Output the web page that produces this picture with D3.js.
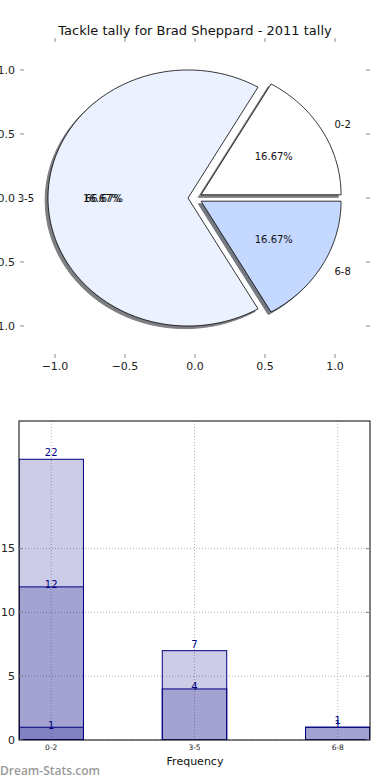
<!DOCTYPE html>
<html>
<head>
<meta charset="utf-8">
<script src="https://cdnjs.cloudflare.com/ajax/libs/d3/7.8.5/d3.min.js"></script>
<style>
  body { margin: 0; background: #fff; }
  svg { display: block; font-family: "DejaVu Sans", sans-serif; }
</style>
</head>
<body>
<svg id="chart"></svg>
<script>
// tackle tally pie + overlapping bars

var title = 'Tackle tally for Brad Sheppard - 2011 tally';

var pieLabels = ['0-2', '3-5', '6-8'];
var pieValues = [1, 4, 1];
var pieColors = ['#ffffff', '#ebf1ff', '#c5d8ff'];
var pieTicks = [-1.0, -0.5, 0.0, 0.5, 1.0];

var barCats = ['0-2', '3-5', '6-8'];
var layerTotal = [22, 7, 1];
var layerMid = [12, 4, 1];
var layerLow = [1, 0, 0];
var barTicks = [0, 5, 10, 15];

var width = 390,
    height = 780;

var svg = d3.select('#chart')
  .attr('width', width)
  .attr('height', height);

svg.append('rect').attr('width', width).attr('height', height).attr('fill', '#fff');

svg.append('text')
  .attr('x', 195).attr('y', 35)
  .attr('text-anchor', 'middle')
  .style('font-size', '13px')
  .attr('fill', '#111')
  .text(title);

/**
 * Pie
 */
var px = d3.scaleLinear().domain([-1.25, 1.25]).range([20, 370]);
var py = d3.scaleLinear().domain([-1.25, 1.25]).range([358, 38]);
var explode = 0.05;
var rad = Math.PI / 180;

var total = d3.sum(pieValues);
var slices = [];
var start = 0;
pieValues.forEach(function (v, i) {
  var sweep = v / total * 360;
  var mid = (start + sweep / 2) * rad;
  slices.push({
    label: pieLabels[i],
    pct: (v / total * 100).toFixed(2) + '%',
    a0: start, a1: start + sweep, mid: mid,
    dx: explode * Math.cos(mid), dy: explode * Math.sin(mid),
    color: pieColors[i]
  });
  start += sweep;
});

var line = d3.line();

function wedgePath(s, ox, oy) {
  var pts = [[px(s.dx + ox), py(s.dy + oy)]];
  d3.range(s.a0, s.a1 + 0.001, 1).forEach(function (a) {
    pts.push([px(s.dx + ox + Math.cos(a * rad)), py(s.dy + oy + Math.sin(a * rad))]);
  });
  return line(pts) + 'Z';
}

function darker(c) {
  var r = d3.rgb(c);
  return d3.rgb(r.r * 0.3, r.g * 0.3, r.b * 0.3).toString();
}

var pie = svg.append('g');

pie.selectAll('path.shadow')
  .data(slices)
  .enter().append('path')
    .attr('class', 'shadow')
    .attr('d', function (d) { return wedgePath(d, -0.02, -0.02); })
    .attr('fill', function (d) { return darker(d.color); })
    .attr('stroke', function (d) { return darker(d.color); })
    .attr('stroke-width', 1)
    .attr('opacity', 0.7);

pie.selectAll('path.wedge')
  .data(slices)
  .enter().append('path')
    .attr('class', 'wedge')
    .attr('d', function (d) { return wedgePath(d, 0, 0); })
    .attr('fill', function (d) { return d.color; })
    .attr('stroke', '#000')
    .attr('stroke-width', 0.8)
    .attr('stroke-linejoin', 'miter');

pie.selectAll('text.lab')
  .data(slices)
  .enter().append('text')
    .attr('class', 'lab')
    .attr('x', function (d) { return px(d.dx + 1.1 * Math.cos(d.mid)); })
    .attr('y', function (d) { return py(d.dy + 1.1 * Math.sin(d.mid)); })
    .attr('dy', '0.35em')
    .attr('text-anchor', function (d) { return Math.cos(d.mid) > 0 ? 'start' : 'end'; })
    .style('font-size', '10px')
    .attr('fill', '#111')
    .text(function (d) { return d.label; });

pie.selectAll('text.pct')
  .data(slices)
  .enter().append('text')
    .attr('class', 'pct')
    .attr('x', function (d) { return px(d.dx + 0.6 * Math.cos(d.mid)); })
    .attr('y', function (d) { return py(d.dy + 0.6 * Math.sin(d.mid)); })
    .attr('dy', '0.35em')
    .attr('text-anchor', 'middle')
    .style('font-size', '10px')
    .attr('fill', '#111')
    .text(function (d) { return d.pct; });

// the original has a second percentage printed over the big slice label
var big = slices[1];
pie.append('text')
  .attr('x', px(big.dx + 0.6 * Math.cos(big.mid)) - 2)
  .attr('y', py(big.dy + 0.6 * Math.sin(big.mid)))
  .attr('dy', '0.35em')
  .attr('text-anchor', 'middle')
  .style('font-size', '10px')
  .attr('fill', '#111')
  .text(slices[0].pct);

// pie ticks (no spines)
var tickCol = '#b0b0b0';
pieTicks.forEach(function (t) {
  pie.append('line').attr('x1', px(t)).attr('x2', px(t)).attr('y1', 38).attr('y2', 42)
    .attr('stroke', tickCol).attr('stroke-width', 1.5);
  pie.append('line').attr('x1', px(t)).attr('x2', px(t)).attr('y1', 354).attr('y2', 358)
    .attr('stroke', tickCol).attr('stroke-width', 1.5);
  pie.append('line').attr('y1', py(t)).attr('y2', py(t)).attr('x1', 20).attr('x2', 24)
    .attr('stroke', tickCol).attr('stroke-width', 1.5);
  pie.append('line').attr('y1', py(t)).attr('y2', py(t)).attr('x1', 366).attr('x2', 370)
    .attr('stroke', tickCol).attr('stroke-width', 1.5);
});

var fmt = function (t) { return d3.format('.1f')(t).replace('-', '\u2212'); };

pie.selectAll('text.xt')
  .data(pieTicks)
  .enter().append('text')
    .attr('x', function (d) { return px(d); })
    .attr('y', 370)
    .attr('text-anchor', 'middle')
    .style('font-size', '11px')
    .attr('fill', '#222')
    .text(fmt);

pie.selectAll('text.yt')
  .data(pieTicks)
  .enter().append('text')
    .attr('x', 15)
    .attr('y', function (d) { return py(d); })
    .attr('dy', '0.35em')
    .attr('text-anchor', 'end')
    .style('font-size', '11px')
    .attr('fill', '#222')
    .text(fmt);

/**
 * Bars
 */
var bx = d3.scaleLinear().domain([-0.225, 2.225]).range([19, 370]);
var by = d3.scaleLinear().domain([0, 25]).range([740, 421]);
var barW = 0.45;

var bars = svg.append('g');

var clip = svg.append('clipPath').attr('id', 'barclip');
clip.append('rect').attr('x', 19).attr('y', 421).attr('width', 351).attr('height', 319);

// grid
var gridCol = '#b5b5b5';
bars.selectAll('line.gy')
  .data(barTicks)
  .enter().append('line')
    .attr('x1', 19).attr('x2', 370)
    .attr('y1', function (d) { return by(d); })
    .attr('y2', function (d) { return by(d); })
    .attr('stroke', gridCol).attr('stroke-dasharray', '1,2');
bars.selectAll('line.gx')
  .data(barCats)
  .enter().append('line')
    .attr('x1', function (d, i) { return bx(i); })
    .attr('x2', function (d, i) { return bx(i); })
    .attr('y1', 421).attr('y2', 740)
    .attr('stroke', gridCol).attr('stroke-dasharray', '1,2');

var layers = [layerTotal, layerMid, layerLow];
var labelLift = [0.5, 0.2, 0.1];
var bw = bx(barW) - bx(0);

layers.forEach(function (vals, li) {
  var g = bars.append('g').attr('clip-path', 'url(#barclip)');
  g.selectAll('rect')
    .data(vals)
    .enter().append('rect')
      .filter(function (d) { return d > 0; })
      .attr('x', function (d, i) { return bx(i) - bw / 2; })
      .attr('width', bw)
      .attr('y', function (d) { return by(d); })
      .attr('height', function (d) { return by(0) - by(d); })
      .attr('fill', 'rgba(0,0,128,0.2)')
      .attr('stroke', '#000080')
      .attr('stroke-width', 1);

  bars.selectAll('text.v' + li)
    .data(vals)
    .enter().append('text')
      .filter(function (d) { return d > 0; })
      .attr('x', function (d, i) { return bx(i); })
      .attr('y', function (d) { return by(d + labelLift[li]); })
      .attr('dy', '0.35em')
      .attr('text-anchor', 'middle')
      .style('font-size', '10px')
      .attr('fill', '#000080')
      .text(function (d) { return d; });
});

// frame
bars.append('rect')
  .attr('x', 19).attr('y', 421).attr('width', 351).attr('height', 319)
  .attr('fill', 'none').attr('stroke', '#000').attr('stroke-width', 1);

barTicks.forEach(function (t) {
  bars.append('line').attr('x1', 19).attr('x2', 23).attr('y1', by(t)).attr('y2', by(t))
    .attr('stroke', '#888');
  bars.append('line').attr('x1', 366).attr('x2', 370).attr('y1', by(t)).attr('y2', by(t))
    .attr('stroke', '#888');
});

bars.selectAll('text.yb')
  .data(barTicks)
  .enter().append('text')
    .attr('x', 15)
    .attr('y', function (d) { return by(d); })
    .attr('dy', '0.35em')
    .attr('text-anchor', 'end')
    .style('font-size', '11px')
    .attr('fill', '#222')
    .text(function (d) { return d; });

bars.selectAll('text.xb')
  .data(barCats)
  .enter().append('text')
    .attr('x', function (d, i) { return bx(i); })
    .attr('y', 750)
    .attr('text-anchor', 'middle')
    .style('font-size', '7.5px')
    .attr('fill', '#222')
    .text(function (d) { return d; });

svg.append('text')
  .attr('x', 195).attr('y', 765)
  .attr('text-anchor', 'middle')
  .style('font-size', '11px')
  .attr('fill', '#111')
  .text('Frequency');

svg.append('text')
  .attr('x', 0).attr('y', 775)
  .style('font-family', '"Open Sans", sans-serif')
  .style('font-size', '12px')
  .style('font-weight', 600)
  .attr('fill', '#999')
  .text('Dream-Stats.com');
</script>
</body>
</html>
